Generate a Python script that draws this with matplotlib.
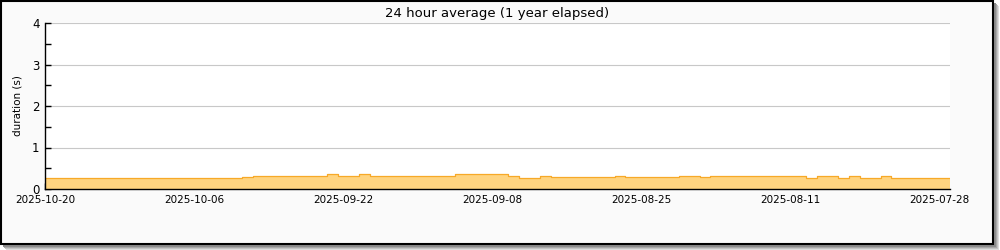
import numpy as np
import pandas as pd
import matplotlib
matplotlib.use("Agg")
import matplotlib.pyplot as plt
import matplotlib.dates as mdates
from matplotlib.patches import Rectangle

# daily 24h average durations, newest first (2025-10-20 back to 2025-07-26)
start_day = "2025-10-20"
durations = (
    [0.27] * 19 + [0.29] + [0.32] * 7 + [0.35] + [0.32] * 2 + [0.35]
    + [0.32] * 8 + [0.35] * 5 + [0.31] + [0.275] * 2 + [0.305] + [0.28] * 6
    + [0.305] + [0.28] * 5 + [0.305] * 2 + [0.28] + [0.305] * 9 + [0.275]
    + [0.305] * 2 + [0.275] + [0.305] + [0.275] * 2 + [0.305] + [0.275] * 6
)
days = pd.date_range(end=start_day, periods=len(durations))[::-1]

major_ticks = ["2025-10-20", "2025-10-06", "2025-09-22", "2025-09-08",
               "2025-08-25", "2025-08-11", "2025-07-28"]
minor_ticks = ["2025-10-13", "2025-09-29", "2025-09-15", "2025-09-01",
               "2025-08-18", "2025-08-04"]
x_left, x_right = "2025-10-20", "2025-07-27"
y_ticks = [0, 1, 2, 3, 4]

fig = plt.figure(figsize=(10, 2.5), dpi=100, facecolor="white")
W, H = 1000, 250

# frame with drop shadow (pixel coords from the top-left)
def px_rect(x0, y0, x1, y1, **kw):
    return Rectangle((x0 / W, 1 - y1 / H), (x1 - x0) / W, (y1 - y0) / H,
                     transform=fig.transFigure, **kw)

for k, c in enumerate(["#dddddd", "#c4c4c4", "#a8a8a8", "#8c8c8c"]):
    off = 6 - k
    fig.patches.append(px_rect(off, off, 993 + off, 244 + off,
                               facecolor=c, edgecolor="none", zorder=0))
fig.patches.append(px_rect(0.75, 0.75, 993, 244, facecolor="#fafafa",
                           edgecolor="black", linewidth=1.5, zorder=1))

ax = fig.add_axes([45 / W, (H - 189) / H, 905 / W, 166 / H])
ax.set_zorder(5)
ax.set_facecolor("white")
x = mdates.date2num(days)
ax.fill_between(x, 0, durations, step="mid", color="#ffd480", linewidth=0)
ax.step(x, durations, where="mid", color="#f7a928", linewidth=0.9)

ax.set_xlim(mdates.datestr2num(x_left), mdates.datestr2num(x_right))
ax.set_ylim(0, 4)
ax.set_yticks(y_ticks)
ax.set_yticks(np.arange(0, 4.01, 0.5), minor=True)
ax.set_xticks(mdates.datestr2num(major_ticks))
ax.set_xticklabels(major_ticks)
ax.set_xticks(mdates.datestr2num(minor_ticks), minor=True)
ax.grid(axis="y", which="major", color="#c8c8c8", linewidth=0.8)
ax.set_axisbelow(True)
for s in ["top", "right"]:
    ax.spines[s].set_visible(False)
ax.spines["left"].set_linewidth(1.0)
ax.spines["bottom"].set_linewidth(1.0)
ax.tick_params(which="both", direction="in", length=4.5, width=1.0,
               labelsize=7.5, pad=4.5)
ax.tick_params(axis="y", pad=4, labelsize=8.5)
ax.set_ylabel("duration (s)", fontsize=7.5, labelpad=7)
ax.set_title("24 hour average (1 year elapsed)", fontsize=9.5, pad=4)

fig.savefig("out.png", dpi=100, facecolor="white")
